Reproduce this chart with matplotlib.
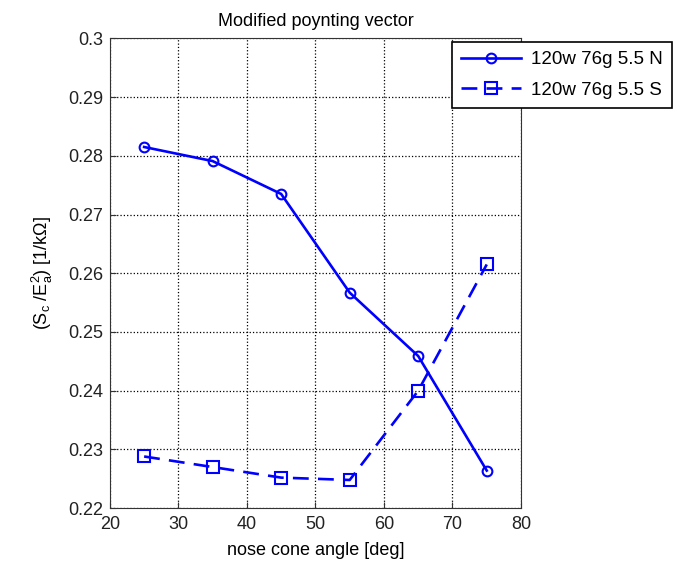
import numpy as np
import matplotlib.pyplot as plt

plt.rcParams['font.family'] = ['Liberation Sans', 'DejaVu Sans']
plt.rcParams['mathtext.default'] = 'regular'

angle = [25, 35, 45, 55, 65, 75]
sc_n = [0.2815, 0.2791, 0.2735, 0.2567, 0.2459, 0.2264]
sc_s = [0.2288, 0.2270, 0.2252, 0.2248, 0.2400, 0.2615]
labels = ['120w 76g 5.5 N', '120w 76g 5.5 S']
xticks = [20, 30, 40, 50, 60, 70, 80]
yticks = [0.22, 0.23, 0.24, 0.25, 0.26, 0.27, 0.28, 0.29, 0.30]

fig = plt.figure(figsize=(6.74, 5.64), dpi=100)
ax = fig.add_axes([0.163, 0.099, 0.61, 0.833])

ax.plot(angle, sc_n, '-o', color='#0000ff', lw=1.9, ms=7, mfc='none', mew=1.5, label=labels[0])
ax.plot(angle, sc_s, '--s', color='#0000ff', lw=1.9, ms=9, mfc='none', mew=1.5,
        dashes=(6, 3.5), label=labels[1])

ax.set_xlim(20, 80)
ax.set_ylim(0.22, 0.30)
ax.set_xticks(xticks)
ax.set_yticks(yticks)
ax.set_yticklabels(['%g' % v for v in yticks])
ax.grid(True, linestyle=':', color='black', lw=0.9)
ax.tick_params(direction='in', labelsize=13, length=4, colors='#333333', labelcolor='#222222')
ax.tick_params(axis='x', pad=6)
ax.tick_params(axis='y', pad=5)
for s in ax.spines.values():
    s.set_color('#333333')

ax.set_title('Modified poynting vector', fontsize=13, pad=9)
ax.set_xlabel('nose cone angle [deg]', fontsize=13, labelpad=6)
ax.set_ylabel('(S$_c$ /E$^2_a$) [1/kΩ]', fontsize=13, labelpad=9)

leg = ax.legend(loc='upper left', bbox_to_anchor=(452 / 674, 1 - 42 / 564),
                bbox_transform=fig.transFigure, fancybox=False, framealpha=1,
                edgecolor='black', fontsize=13.5, borderaxespad=0, handlelength=3.2,
                handletextpad=0.5, borderpad=0.5, labelspacing=0.7)
leg.get_frame().set_linewidth(1.2)

fig.savefig('out.png', dpi=100)
